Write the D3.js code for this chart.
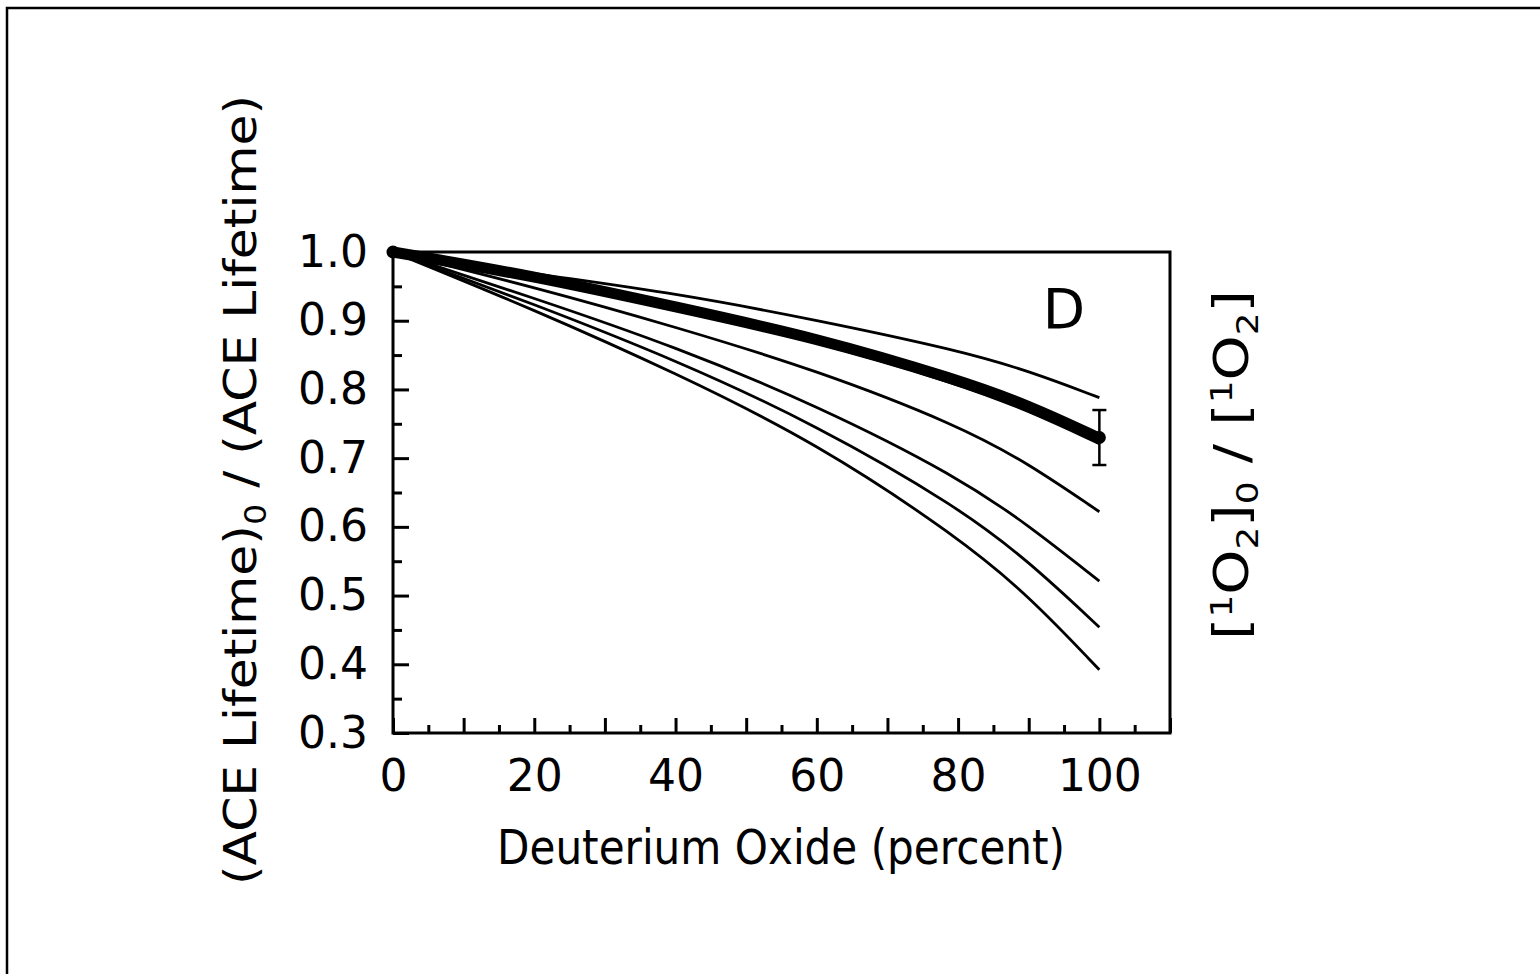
<!DOCTYPE html>
<html>
<head>
<meta charset="utf-8">
<script src="https://cdn.jsdelivr.net/npm/d3@7"></script>
<style>
  body { margin: 0; background: #fff; }
  svg text { font-family: "DejaVu Sans", sans-serif; fill: #000; }
</style>
</head>
<body>
<div class="chart"></div>
<script>
// DATA ------------------------------
const xPct     = [0, 20, 40, 60, 80, 90, 100];
const curveTop = [1, 0.968, 0.940, 0.901, 0.857, 0.827, 0.788];
const curveFit = [1, 0.965, 0.920, 0.875, 0.814, 0.777, 0.729];   // heavy line
const curveFitB = [1, 0.962, 0.916, 0.870, 0.808, 0.769, 0.721];
const curve3   = [1, 0.949, 0.891, 0.828, 0.748, 0.692, 0.622];
const curve4   = [1, 0.933, 0.862, 0.777, 0.673, 0.602, 0.521];
const curve5   = [1, 0.924, 0.843, 0.748, 0.629, 0.550, 0.454];
const curve6   = [1, 0.916, 0.824, 0.722, 0.585, 0.500, 0.392];

const pointX  = [0, 100];
const pointY  = [1.0, 0.73];
const pointLo = [1.0, 0.69];
const pointHi = [1.0, 0.77];

const xMajor = [0, 10, 20, 30, 40, 50, 60, 70, 80, 90, 100, 110];
const xMinor = [5, 15, 25, 35, 45, 55, 65, 75, 85, 95, 105];
const xLabels = [0, 20, 40, 60, 80, 100];
const yMajor = [0.3, 0.4, 0.5, 0.6, 0.7, 0.8, 0.9, 1.0];
const yMinor = [0.35, 0.45, 0.55, 0.65, 0.75, 0.85, 0.95];

// CHART INIT ------------------------------
const W = 1540, H = 974;
const margin = ({top: 252, right: 370, bottom: 241, left: 393});
const width = W - margin.left - margin.right;
const height = H - margin.top - margin.bottom;

const root = d3.select(".chart").append("svg")
    .attr("width", W)
    .attr("height", H);

// outer page frame (top and left edges visible)
root.append("path")
    .attr("d", `M7,${H} L7,8 L${W},8`)
    .attr("fill", "none")
    .attr("stroke", "#000")
    .attr("stroke-width", 2.5);

const svg = root.append("g")
    .attr("transform", `translate(${margin.left},${margin.top})`);

let xScale = d3.scaleLinear().domain([0, 110]).range([0, width]);
let yScale = d3.scaleLinear().domain([0.3, 1.0]).range([height, 0]);

// axes, ticks point inward
let xAxis = d3.axisBottom(xScale).tickValues(xMajor)
    .tickSize(-15).tickPadding(27)
    .tickFormat(d => xLabels.includes(d) ? d : "");
let xAxisMinor = d3.axisBottom(xScale).tickValues(xMinor)
    .tickSize(-8).tickFormat("");
let yAxis = d3.axisLeft(yScale).tickValues(yMajor)
    .tickSize(-16).tickPadding(25)
    .tickFormat(d3.format(".1f"));
let yAxisMinor = d3.axisLeft(yScale).tickValues(yMinor)
    .tickSize(-9).tickFormat("");

svg.append('g').attr('class', 'axis x-axis')
    .attr("transform", `translate(0, ${height})`).call(xAxis);
svg.append('g').attr('class', 'axis x-axis-minor')
    .attr("transform", `translate(0, ${height})`).call(xAxisMinor);
svg.append('g').attr('class', 'axis y-axis').call(yAxis);
svg.append('g').attr('class', 'axis y-axis-minor').call(yAxisMinor);

svg.selectAll(".axis .domain").remove();
svg.selectAll(".axis line").attr("stroke", "#000").attr("stroke-width", 3);
svg.selectAll(".axis text").attr("font-size", "44px")
    .style("font-family", "DejaVu Sans, sans-serif");

// plot box
svg.append("rect")
    .attr("width", width).attr("height", height)
    .attr("fill", "none").attr("stroke", "#000").attr("stroke-width", 3);

// CURVES ---------------------------
const line = d3.line()
    .x((d, i) => xScale(xPct[i]))
    .y(d => yScale(d))
    .curve(d3.curveBasis);

const thin = [curveTop, curveFitB, curve3, curve4, curve5, curve6];
svg.selectAll(".thin").data(thin).enter()
    .append("path")
    .attr("class", "thin")
    .attr("d", line)
    .attr("fill", "none")
    .attr("stroke", "#000")
    .attr("stroke-width", 2.8);

svg.append("path")
    .attr("d", line(curveFit))
    .attr("fill", "none")
    .attr("stroke", "#000")
    .attr("stroke-width", 11);

// measured points with error bars
const pts = pointX.map((x, i) => ({x, y: pointY[i], lo: pointLo[i], hi: pointHi[i]}));
const eb = svg.selectAll(".eb").data(pts.filter(p => p.hi > p.lo)).enter().append("g");
eb.append("line")
    .attr("x1", d => xScale(d.x)).attr("x2", d => xScale(d.x))
    .attr("y1", d => yScale(d.hi)).attr("y2", d => yScale(d.lo))
    .attr("stroke", "#000").attr("stroke-width", 2.5);
eb.selectAll(".cap").data(d => [[d.x, d.hi], [d.x, d.lo]]).enter()
    .append("line")
    .attr("x1", d => xScale(d[0]) - 7).attr("x2", d => xScale(d[0]) + 7)
    .attr("y1", d => yScale(d[1])).attr("y2", d => yScale(d[1]))
    .attr("stroke", "#000").attr("stroke-width", 2.5);
svg.selectAll(".pt").data(pts).enter()
    .append("circle")
    .attr("cx", d => xScale(d.x)).attr("cy", d => yScale(d.y))
    .attr("r", 6.5).attr("fill", "#000");

// panel letter
svg.append("text")
    .attr("x", xScale(95)).attr("y", 76)
    .attr("text-anchor", "middle")
    .attr("font-size", "55px")
    .text("D");

// AXIS TITLES ---------------------------
root.append("text")
    .attr("x", 781).attr("y", 864)
    .attr("text-anchor", "middle")
    .attr("font-size", "48px")
    .attr("textLength", 568).attr("lengthAdjust", "spacingAndGlyphs")
    .text("Deuterium Oxide (percent)");

const yt = root.append("text")
    .attr("transform", "translate(256,490) rotate(-90)")
    .attr("text-anchor", "middle")
    .attr("font-size", "45px")
    .attr("textLength", 790).attr("lengthAdjust", "spacingAndGlyphs");
yt.append("tspan").text("(ACE Lifetime)");
yt.append("tspan").attr("font-size", "30px").attr("dy", 10).text("0");
yt.append("tspan").attr("dy", -10).text(" / (ACE Lifetime)");

const rt = root.append("text")
    .attr("transform", "translate(1248,465) rotate(-90)")
    .attr("text-anchor", "middle")
    .attr("font-size", "48px")
    .attr("textLength", 350).attr("lengthAdjust", "spacingAndGlyphs");
rt.append("tspan").text("[");
rt.append("tspan").attr("font-size", "30px").attr("dy", -16).text("1");
rt.append("tspan").attr("dy", 16).text("O");
rt.append("tspan").attr("font-size", "30px").attr("dy", 10).text("2");
rt.append("tspan").attr("dy", -10).text("]");
rt.append("tspan").attr("font-size", "30px").attr("dy", 10).text("0");
rt.append("tspan").attr("dy", -10).text(" / [");
rt.append("tspan").attr("font-size", "30px").attr("dy", -16).text("1");
rt.append("tspan").attr("dy", 16).text("O");
rt.append("tspan").attr("font-size", "30px").attr("dy", 10).text("2");
rt.append("tspan").attr("dy", -10).text("]");
</script>
</body>
</html>
